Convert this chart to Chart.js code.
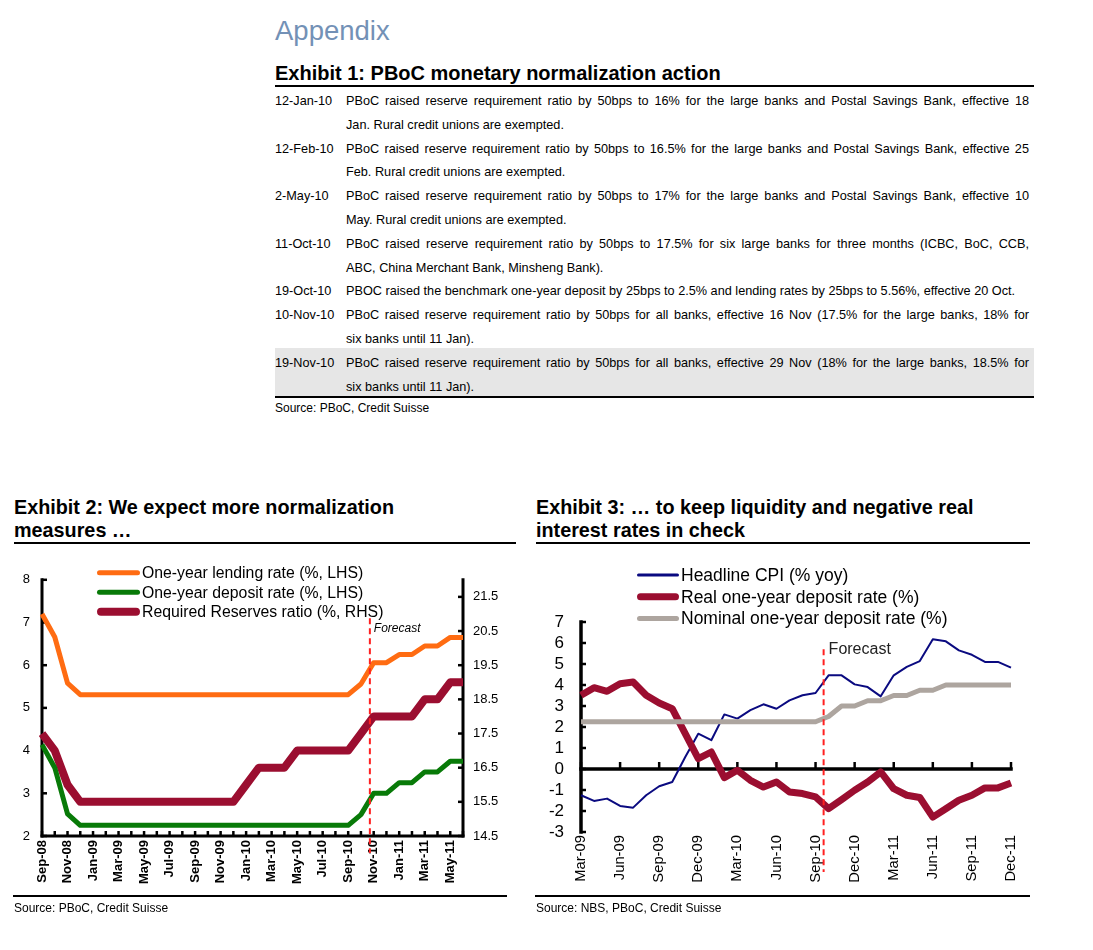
<!DOCTYPE html>
<html>
<head>
<meta charset="utf-8">
<script src="https://cdn.jsdelivr.net/npm/chart.js@4.4.1/dist/chart.umd.min.js"></script>
<style>
  html,body{margin:0;padding:0;background:#fff;}
  body{width:1093px;height:950px;position:relative;overflow:hidden;font-family:"Liberation Sans",Arial,sans-serif;color:#000;}
  .abs{position:absolute;}
  .appendix{left:275px;top:15px;font-size:27.5px;color:#7391b6;white-space:nowrap;}
  .ex1{left:275px;top:62px;font-size:20px;font-weight:bold;white-space:nowrap;}
  .rule{background:#000;height:2px;}
  .table{left:275px;top:90px;width:759px;font-size:12.7px;line-height:23.8px;}
  .row{display:flex;}
  .row.shade{background:#e6e6e6;margin-top:-4px;padding-top:4px;height:48.5px;box-sizing:border-box;}
  .date{width:71px;flex:none;white-space:nowrap;}
  .txt{width:683px;flex:none;}
  .txt .j{text-align:justify;text-align-last:justify;white-space:nowrap;}
  .txt .l{white-space:nowrap;}
  .src{font-size:12px;white-space:nowrap;}
  .title{font-size:19.8px;font-weight:bold;line-height:23px;white-space:nowrap;}
  canvas{position:absolute;}
</style>
</head>
<body>
<div class="abs appendix">Appendix</div>
<div class="abs ex1">Exhibit 1: PBoC monetary normalization action</div>
<div class="abs rule" style="left:275px;top:85px;width:759px;"></div>
<div class="abs table">
  <div class="row"><div class="date">12-Jan-10</div><div class="txt"><div class="j">PBoC raised reserve requirement ratio by 50bps to 16% for the large banks and Postal Savings Bank, effective 18</div><div class="l">Jan. Rural credit unions are exempted.</div></div></div>
  <div class="row"><div class="date">12-Feb-10</div><div class="txt"><div class="j">PBoC raised reserve requirement ratio by 50bps to 16.5% for the large banks and Postal Savings Bank, effective 25</div><div class="l">Feb. Rural credit unions are exempted.</div></div></div>
  <div class="row"><div class="date">2-May-10</div><div class="txt"><div class="j">PBoC raised reserve requirement ratio by 50bps to 17% for the large banks and Postal Savings Bank, effective 10</div><div class="l">May. Rural credit unions are exempted.</div></div></div>
  <div class="row"><div class="date">11-Oct-10</div><div class="txt"><div class="j">PBoC raised reserve requirement ratio by 50bps to 17.5% for six large banks for three months (ICBC, BoC, CCB,</div><div class="l">ABC, China Merchant Bank, Minsheng Bank).</div></div></div>
  <div class="row"><div class="date">19-Oct-10</div><div class="txt"><div class="l">PBOC raised the benchmark one-year deposit by 25bps to 2.5% and lending rates by 25bps to 5.56%, effective 20 Oct.</div></div></div>
  <div class="row"><div class="date">10-Nov-10</div><div class="txt"><div class="j">PBoC raised reserve requirement ratio by 50bps for all banks, effective 16 Nov (17.5% for the large banks, 18% for</div><div class="l">six banks until 11 Jan).</div></div></div>
  <div class="row shade"><div class="date">19-Nov-10</div><div class="txt"><div class="j">PBoC raised reserve requirement ratio by 50bps for all banks, effective 29 Nov (18% for the large banks, 18.5% for</div><div class="l">six banks until 11 Jan).</div></div></div>
</div>
<div class="abs rule" style="left:275px;top:396px;width:759px;height:1.5px;"></div>
<div class="abs src" style="left:275px;top:401px;">Source: PBoC, Credit Suisse</div>

<div class="abs title" style="left:14px;top:496px;">Exhibit 2: We expect more normalization<br>measures …</div>
<div class="abs rule" style="left:14px;top:542px;width:502px;height:1.5px;"></div>
<div class="abs title" style="left:536px;top:496px;">Exhibit 3: … to keep liquidity and negative real<br>interest rates in check</div>
<div class="abs rule" style="left:536px;top:542px;width:494px;height:1.5px;"></div>

<canvas id="c2" width="520" height="336" style="left:0px;top:560px;"></canvas>
<canvas id="c3" width="520" height="336" style="left:530px;top:560px;"></canvas>

<div class="abs rule" style="left:13px;top:895px;width:494px;height:1.5px;"></div>
<div class="abs src" style="left:14px;top:901px;">Source: PBoC, Credit Suisse</div>
<div class="abs rule" style="left:535px;top:895px;width:495px;height:1.5px;"></div>
<div class="abs src" style="left:536px;top:901px;">Source: NBS, PBoC, Credit Suisse</div>

<script>
// ---------- Exhibit 2 data ----------
const ex2Months = ['Sep-08','Oct-08','Nov-08','Dec-08','Jan-09','Feb-09','Mar-09','Apr-09','May-09','Jun-09','Jul-09','Aug-09',
  'Sep-09','Oct-09','Nov-09','Dec-09','Jan-10','Feb-10','Mar-10','Apr-10','May-10','Jun-10','Jul-10','Aug-10',
  'Sep-10','Oct-10','Nov-10','Dec-10','Jan-11','Feb-11','Mar-11','Apr-11','May-11','Jun-11'];
const lendingRate = [7.2,6.66,5.58,5.31,5.31,5.31,5.31,5.31,5.31,5.31,5.31,5.31,
  5.31,5.31,5.31,5.31,5.31,5.31,5.31,5.31,5.31,5.31,5.31,5.31,
  5.31,5.56,6.06,6.06,6.25,6.25,6.45,6.45,6.65,6.65];
const depositRate = [4.14,3.6,2.52,2.25,2.25,2.25,2.25,2.25,2.25,2.25,2.25,2.25,
  2.25,2.25,2.25,2.25,2.25,2.25,2.25,2.25,2.25,2.25,2.25,2.25,
  2.25,2.5,3.0,3.0,3.25,3.25,3.5,3.5,3.75,3.75];
const reserveRatio = [17.5,17.0,16.0,15.5,15.5,15.5,15.5,15.5,15.5,15.5,15.5,15.5,
  15.5,15.5,15.5,15.5,16.0,16.5,16.5,16.5,17.0,17.0,17.0,17.0,
  17.0,17.5,18.0,18.0,18.0,18.0,18.5,18.5,19.0,19.0];
const ex2LhsTicks = [2,3,4,5,6,7,8];
const ex2RhsTicks = [14.5,15.5,16.5,17.5,18.5,19.5,20.5,21.5];
const ex2Labels = ['One-year lending rate (%, LHS)','One-year deposit rate (%, LHS)','Required Reserves ratio (%, RHS)'];
const ex2ForecastAt = 25.7;

// ---------- Exhibit 3 data ----------
const ex3Months = ['Mar-09','Apr-09','May-09','Jun-09','Jul-09','Aug-09','Sep-09','Oct-09','Nov-09','Dec-09',
  'Jan-10','Feb-10','Mar-10','Apr-10','May-10','Jun-10','Jul-10','Aug-10','Sep-10','Oct-10','Nov-10','Dec-10',
  'Jan-11','Feb-11','Mar-11','Apr-11','May-11','Jun-11','Jul-11','Aug-11','Sep-11','Oct-11','Nov-11','Dec-11'];
const headlineCPI = [-1.25,-1.52,-1.41,-1.76,-1.84,-1.25,-0.82,-0.62,0.57,1.68,
  1.37,2.6,2.4,2.8,3.08,2.87,3.27,3.51,3.62,4.46,4.46,4.03,
  3.9,3.46,4.46,4.86,5.14,6.18,6.08,5.65,5.44,5.1,5.1,4.83];
const realDeposit = [3.51,3.87,3.7,4.06,4.14,3.51,3.14,2.87,1.68,0.49,
  0.81,-0.41,-0.06,-0.54,-0.86,-0.62,-1.1,-1.17,-1.33,-1.89,-1.46,-1.01,
  -0.62,-0.14,-0.94,-1.25,-1.36,-2.29,-1.89,-1.49,-1.25,-0.9,-0.9,-0.67];
const nominalDeposit = [2.25,2.25,2.25,2.25,2.25,2.25,2.25,2.25,2.25,2.25,
  2.25,2.25,2.25,2.25,2.25,2.25,2.25,2.25,2.25,2.5,3.0,3.0,
  3.25,3.25,3.5,3.5,3.75,3.75,4.0,4.0,4.0,4.0,4.0,4.0];
const ex3Ticks = [-3,-2,-1,0,1,2,3,4,5,6,7];
const ex3Labels = ['Headline CPI (% yoy)','Real one-year deposit rate (%)','Nominal one-year deposit rate (%)'];
const ex3ForecastAt = 18.62;

const FONT = '"Liberation Sans", Arial, sans-serif';
Chart.defaults.font.family = FONT;
Chart.defaults.color = '#000';

const C_ORANGE = '#ff6c12', C_GREEN = '#087a08', C_MAROON = '#9b0e30';
const C_NAVY = '#0a0a80', C_GRAY = '#ada59f', C_RED = '#ff2020';

function seg(ctx, x1, y1, x2, y2){ ctx.beginPath(); ctx.moveTo(x1,y1); ctx.lineTo(x2,y2); ctx.stroke(); }

// ---------- Exhibit 2 ----------
const ex2Plugin = {
  id: 'ex2frame',
  beforeDatasetsDraw(chart){
    const {ctx, chartArea:a, scales:{x, y, y1}} = chart;
    ctx.save();
    ctx.strokeStyle = '#000';
    ctx.lineWidth = 3; ctx.lineCap = 'square';
    seg(ctx, a.left, a.top, a.left, a.bottom);
    seg(ctx, a.right, a.top, a.right, a.bottom);
    seg(ctx, a.left, a.bottom, a.right, a.bottom);
    ctx.lineWidth = 2.5; ctx.lineCap = 'butt';
    ex2LhsTicks.forEach(v => { const p = y.getPixelForValue(v); seg(ctx, a.left, p, a.left + 5, p); });
    ex2RhsTicks.forEach(v => { const p = y1.getPixelForValue(v); seg(ctx, a.right, p, a.right - 5, p); });
    ex2Months.forEach((m, i) => { const p = x.getPixelForValue(i); seg(ctx, p, a.bottom, p, a.bottom - 5); });
    ctx.restore();
  },
  afterDatasetsDraw(chart){
    const {ctx, chartArea:a, scales:{x, y}} = chart;
    ctx.save();
    const fx = x.getPixelForValue(ex2ForecastAt);
    ctx.strokeStyle = C_RED; ctx.lineWidth = 2; ctx.setLineDash([6,4]);
    seg(ctx, fx, y.getPixelForValue(7.1), fx, a.bottom + 17);
    ctx.setLineDash([]);
    ctx.fillStyle = '#000'; ctx.font = 'italic 12px ' + FONT; ctx.textBaseline = 'alphabetic';
    ctx.fillText('Forecast', fx + 4, y.getPixelForValue(6.78));
    // legend
    const cols = [C_ORANGE, C_GREEN, C_MAROON], widths = [5, 5, 8];
    ctx.font = '15.8px ' + FONT; ctx.textBaseline = 'middle';
    ex2Labels.forEach((t, i) => {
      const yy = a.top - 7 + i * 19.5;
      ctx.strokeStyle = cols[i]; ctx.lineWidth = widths[i]; ctx.lineCap = 'round';
      seg(ctx, a.left + 55 + widths[i] / 2, yy, a.left + 98 - widths[i] / 2, yy);
      ctx.fillStyle = '#000';
      ctx.fillText(t, a.left + 100, yy + 1);
    });
    ctx.restore();
  }
};

new Chart(document.getElementById('c2'), {
  type: 'line',
  data: {
    labels: ex2Months,
    datasets: [
      {label: ex2Labels[0], data: lendingRate, yAxisID: 'y', borderColor: C_ORANGE, borderWidth: 5},
      {label: ex2Labels[1], data: depositRate, yAxisID: 'y', borderColor: C_GREEN, borderWidth: 5},
      {label: ex2Labels[2], data: reserveRatio, yAxisID: 'y1', borderColor: C_MAROON, borderWidth: 8}
    ]
  },
  options: {
    responsive: false, animation: false, devicePixelRatio: 1,
    layout: {padding: {top: 18, left: 0, right: 0, bottom: 0}},
    elements: {point: {radius: 0}, line: {tension: 0, borderJoinStyle: 'round', fill: false}},
    plugins: {legend: {display: false}, tooltip: {enabled: false}},
    scales: {
      x: {
        grid: {display: false, drawTicks: false}, border: {display: false},
        ticks: {autoSkip: false, maxRotation: 90, minRotation: 90, padding: 4,
          font: {size: 13, weight: 'bold'}, color: '#000',
          callback: (v, i) => (i % 2 === 0 ? ex2Months[i] : '')},
        afterFit: s => { s.height = 60; }
      },
      y: {
        position: 'left', min: 2, max: 8,
        grid: {display: false, drawTicks: false}, border: {display: false},
        afterBuildTicks: s => { s.ticks = ex2LhsTicks.map(v => ({value: v})); },
        ticks: {autoSkip: false, padding: 12, font: {size: 13}, color: '#000'},
        afterFit: s => { s.width = 42; }
      },
      y1: {
        position: 'right', min: 14.5, max: 22,
        grid: {display: false, drawTicks: false}, border: {display: false},
        afterBuildTicks: s => { s.ticks = ex2RhsTicks.map(v => ({value: v})); },
        ticks: {autoSkip: false, padding: 10, font: {size: 13}, color: '#000', callback: v => v.toFixed(1)},
        afterFit: s => { s.width = 57; }
      }
    }
  },
  plugins: [ex2Plugin]
});

// ---------- Exhibit 3 ----------
const ex3Plugin = {
  id: 'ex3frame',
  beforeDatasetsDraw(chart){
    const {ctx, chartArea:a, scales:{x, y}} = chart;
    ctx.save();
    ctx.strokeStyle = '#000';
    ctx.lineWidth = 3.5; ctx.lineCap = 'square';
    seg(ctx, a.left, a.top, a.left, a.bottom);
    const z = y.getPixelForValue(0);
    seg(ctx, a.left, z, a.right, z);
    ctx.lineWidth = 2.5; ctx.lineCap = 'butt';
    ex3Ticks.forEach(v => { const p = y.getPixelForValue(v); seg(ctx, a.left, p, a.left + 5, p); });
    ex3Months.forEach((m, i) => { if (i % 3 === 0) { const p = x.getPixelForValue(i); seg(ctx, p, z, p, z - 7); } });
    ctx.restore();
  },
  afterDatasetsDraw(chart){
    const {ctx, chartArea:a, scales:{x, y}} = chart;
    ctx.save();
    const fx = x.getPixelForValue(ex3ForecastAt);
    ctx.strokeStyle = C_RED; ctx.lineWidth = 2; ctx.setLineDash([6,4]);
    seg(ctx, fx, y.getPixelForValue(5.7), fx, a.bottom + 40);
    ctx.setLineDash([]);
    ctx.fillStyle = '#222'; ctx.font = '16px ' + FONT; ctx.textBaseline = 'alphabetic';
    ctx.fillText('Forecast', fx + 5, y.getPixelForValue(5.5) + 0);
    const cols = [C_NAVY, C_MAROON, C_GRAY], widths = [3, 7, 5];
    ctx.font = '17.5px ' + FONT; ctx.textBaseline = 'middle';
    ex3Labels.forEach((t, i) => {
      const yy = a.top - 47 + i * 21.7;
      ctx.strokeStyle = cols[i]; ctx.lineWidth = widths[i]; ctx.lineCap = 'round';
      seg(ctx, a.left + 56 + widths[i] / 2, yy, a.left + 98 - widths[i] / 2, yy);
      ctx.fillStyle = '#000';
      ctx.fillText(t, a.left + 100, yy + 1);
    });
    ctx.restore();
  }
};

new Chart(document.getElementById('c3'), {
  type: 'line',
  data: {
    labels: ex3Months,
    datasets: [
      {label: ex3Labels[2], data: nominalDeposit, borderColor: C_GRAY, borderWidth: 5},
      {label: ex3Labels[1], data: realDeposit, borderColor: C_MAROON, borderWidth: 7},
      {label: ex3Labels[0], data: headlineCPI, borderColor: C_NAVY, borderWidth: 2}
    ]
  },
  options: {
    responsive: false, animation: false, devicePixelRatio: 1,
    layout: {padding: {top: 62, left: 0, right: 39, bottom: 0}},
    elements: {point: {radius: 0}, line: {tension: 0, borderJoinStyle: 'round', fill: false}},
    plugins: {legend: {display: false}, tooltip: {enabled: false}},
    scales: {
      x: {
        grid: {display: false, drawTicks: false}, border: {display: false},
        ticks: {autoSkip: false, maxRotation: 90, minRotation: 90, padding: 3,
          font: {size: 14.8}, color: '#000',
          callback: (v, i) => (i % 3 === 0 ? ex3Months[i] : '')},
        afterFit: s => { s.height = 64; }
      },
      y: {
        position: 'left', min: -3, max: 7,
        grid: {display: false, drawTicks: false}, border: {display: false},
        afterBuildTicks: s => { s.ticks = ex3Ticks.map(v => ({value: v})); },
        ticks: {autoSkip: false, padding: 17, font: {size: 17}, color: '#000'},
        afterFit: s => { s.width = 51; }
      }
    }
  },
  plugins: [ex3Plugin]
});
</script>
</body>
</html>
